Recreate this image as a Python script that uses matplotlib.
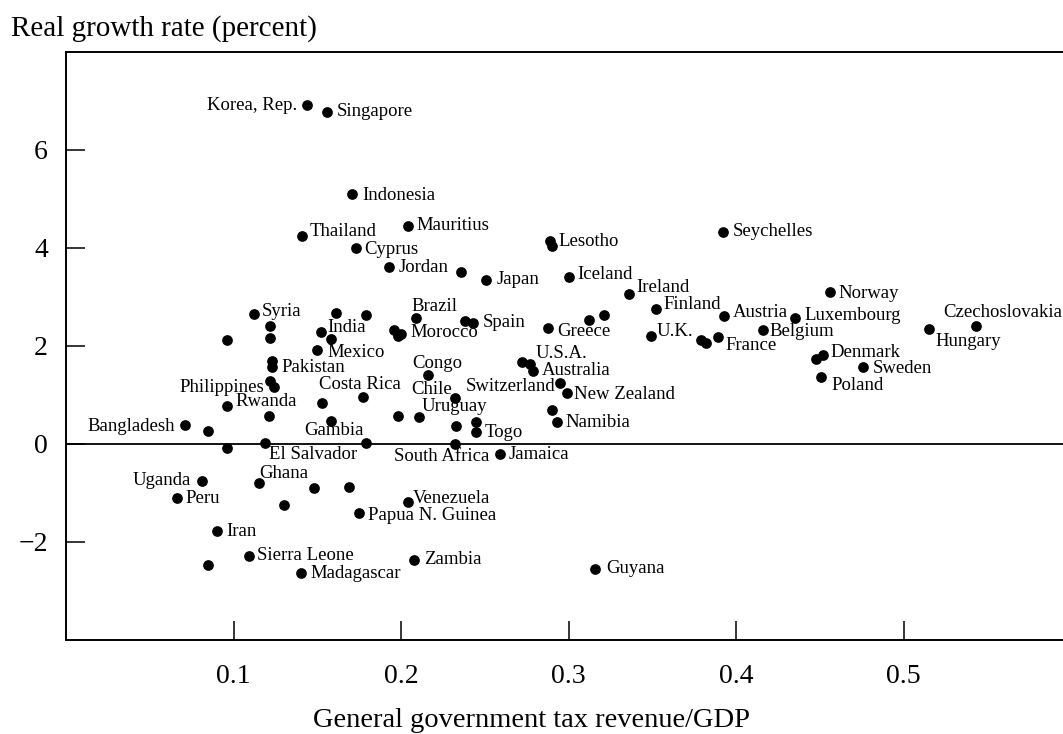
import matplotlib
matplotlib.use("Agg")
import matplotlib.pyplot as plt

# Steuerquote (x) und reales Wachstum (y) je Land; "" = Punkt ohne Beschriftung
laender = [
    "Korea, Rep.", "Singapore", "Indonesia", "Thailand", "Mauritius", "Cyprus",
    "Jordan", "", "Japan", "Lesotho", "", "Iceland", "Ireland", "Seychelles",
    "Norway", "Czechoslovakia", "Hungary", "Austria", "Luxembourg", "Belgium",
    "France", "", "", "Denmark", "", "Sweden", "Poland", "Finland", "U.K.",
    "", "", "Greece", "Spain", "", "Brazil", "Morocco", "", "", "U.S.A.", "",
    "Australia", "Switzerland", "New Zealand", "Congo", "Chile", "Uruguay", "",
    "", "", "Togo", "", "Namibia", "South Africa", "Jamaica", "Venezuela",
    "Zambia", "Guyana", "Syria", "", "", "", "", "", "India", "", "Mexico",
    "Pakistan", "", "Philippines", "", "Rwanda", "", "Costa Rica", "", "Gambia",
    "Bangladesh", "", "", "El Salvador", "", "Uganda", "Peru", "Ghana", "", "",
    "", "Papua N. Guinea", "Iran", "Sierra Leone", "", "Madagascar",
]
steuerquote = [
    0.144, 0.156, 0.171, 0.141, 0.204, 0.173,
    0.193, 0.236, 0.251, 0.289, 0.290, 0.300, 0.336, 0.392,
    0.456, 0.543, 0.515, 0.393, 0.435, 0.416,
    0.389, 0.379, 0.382, 0.452, 0.448, 0.476, 0.451, 0.352, 0.349,
    0.312, 0.321, 0.288, 0.243, 0.238, 0.209, 0.200, 0.196, 0.198, 0.272, 0.277,
    0.279, 0.295, 0.299, 0.216, 0.232, 0.211, 0.198,
    0.233, 0.245, 0.245, 0.290, 0.293, 0.232, 0.259, 0.204,
    0.208, 0.316, 0.112, 0.122, 0.122, 0.096, 0.161, 0.179, 0.152, 0.158, 0.150,
    0.123, 0.123, 0.122, 0.124, 0.096, 0.121, 0.177, 0.153, 0.158,
    0.071, 0.085, 0.096, 0.119, 0.179, 0.081, 0.066, 0.115, 0.148, 0.169,
    0.130, 0.175, 0.090, 0.109, 0.085, 0.140,
]
wachstum = [
    6.92, 6.78, 5.10, 4.25, 4.45, 4.00,
    3.61, 3.51, 3.35, 4.14, 4.04, 3.41, 3.06, 4.33,
    3.10, 2.41, 2.35, 2.61, 2.57, 2.33,
    2.18, 2.12, 2.06, 1.82, 1.74, 1.57, 1.37, 2.76, 2.20,
    2.53, 2.63, 2.37, 2.47, 2.51, 2.57, 2.25, 2.33, 2.20, 1.67, 1.63,
    1.49, 1.25, 1.04, 1.41, 0.94, 0.55, 0.57,
    0.37, 0.45, 0.25, 0.69, 0.45, 0.00, -0.20, -1.18,
    -2.37, -2.55, 2.65, 2.41, 2.16, 2.12, 2.67, 2.63, 2.29, 2.14, 1.92,
    1.57, 1.69, 1.29, 1.16, 0.78, 0.57, 0.96, 0.84, 0.47,
    0.39, 0.27, -0.08, 0.02, 0.02, -0.76, -1.10, -0.80, -0.90, -0.88,
    -1.25, -1.41, -1.78, -2.29, -2.47, -2.63,
]

# Lage der Beschriftung relativ zum Punkt: (dx, dy in Pixeln, Ausrichtung)
beschriftung = {
    "Korea, Rep.": (-10, -5, "right"),
    "Singapore": (9, -4, "left"),
    "Indonesia": (10, -6, "left"),
    "Thailand": (7, 0, "left"),
    "Mauritius": (9, -4, "left"),
    "Cyprus": (8, -6, "left"),
    "Jordan": (9, -5, "left"),
    "Japan": (10, -4, "left"),
    "Lesotho": (8, -5, "left"),
    "Iceland": (9, -2, "left"),
    "Ireland": (7, 2, "left"),
    "Seychelles": (10, -4, "left"),
    "Norway": (9, -6, "left"),
    "Czechoslovakia": (-32, 9, "left"),
    "Hungary": (7, -17, "left"),
    "Austria": (8, -1, "left"),
    "Luxembourg": (10, -2, "left"),
    "Belgium": (7, -6, "left"),
    "France": (8, -13, "left"),
    "Denmark": (7, -2, "left"),
    "Sweden": (9, -6, "left"),
    "Poland": (10, -13, "left"),
    "Finland": (8, 0, "left"),
    "U.K.": (6, 0, "left"),
    "Greece": (9, -8, "left"),
    "Spain": (10, -4, "left"),
    "Brazil": (-5, 7, "left"),
    "Morocco": (9, -3, "left"),
    "U.S.A.": (14, 4, "left"),
    "Australia": (8, -4, "left"),
    "Switzerland": (-5, -8, "right"),
    "New Zealand": (7, -6, "left"),
    "Congo": (-16, 7, "left"),
    "Chile": (-3, 4, "right"),
    "Uruguay": (2, 6, "left"),
    "Togo": (8, -5, "left"),
    "Namibia": (9, -5, "left"),
    "South Africa": (-13, -17, "center"),
    "Jamaica": (9, -5, "left"),
    "Venezuela": (5, -1, "left"),
    "Zambia": (10, -4, "left"),
    "Guyana": (11, -4, "left"),
    "Syria": (8, -2, "left"),
    "India": (7, 0, "left"),
    "Mexico": (10, -7, "left"),
    "Pakistan": (9, -5, "left"),
    "Philippines": (-6, -11, "right"),
    "Rwanda": (9, 0, "left"),
    "Costa Rica": (-3, 8, "center"),
    "Gambia": (3, -14, "center"),
    "Bangladesh": (-10, -6, "right"),
    "El Salvador": (4, -16, "left"),
    "Uganda": (-11, -4, "right"),
    "Peru": (9, -5, "left"),
    "Ghana": (1, 5, "left"),
    "Papua N. Guinea": (9, -7, "left"),
    "Iran": (10, -5, "left"),
    "Sierra Leone": (8, -4, "left"),
    "Madagascar": (10, -5, "left"),
}

plt.rcParams['font.family'] = ['Liberation Serif', 'DejaVu Serif']

fig = plt.figure(figsize=(10.63, 7.34), dpi=100, facecolor='white')
# rechter Rand liegt wie im Original ausserhalb des Bildes
ax = fig.add_axes([0.0621, 0.1281, 0.9455, 0.8011])

ax.plot(steuerquote, wachstum, 'o', color='black', markersize=6.7, zorder=3)
ax.axhline(0, color='black', linewidth=1.3, zorder=2)

for name, x, y in zip(laender, steuerquote, wachstum):
    if not name:
        continue
    dx, dy, ha = beschriftung[name]
    ax.annotate(name, (x, y), xytext=(dx, dy), textcoords='offset pixels',
                ha=ha, va='baseline', fontsize=13.5)

ax.set_xlim(0, 0.6)
ax.set_ylim(-4, 8)
ax.set_xticks([0.1, 0.2, 0.3, 0.4, 0.5])
ax.set_xticklabels(['0.1', '0.2', '0.3', '0.4', '0.5'])
ax.set_yticks([-2, 0, 2, 4, 6])
ax.tick_params(direction='in', length=14, width=1.1, labelsize=20)
ax.tick_params(axis='x', pad=17)
ax.tick_params(axis='y', pad=13)
for spine in ax.spines.values():
    spine.set_linewidth(1.4)

fig.text(0.01, 0.952, 'Real growth rate (percent)', fontsize=21,
         ha='left', va='baseline')
fig.text(0.5, 0.01, 'General government tax revenue/GDP', fontsize=20.5,
         ha='center', va='baseline')

plt.savefig('out.png', dpi=100)
